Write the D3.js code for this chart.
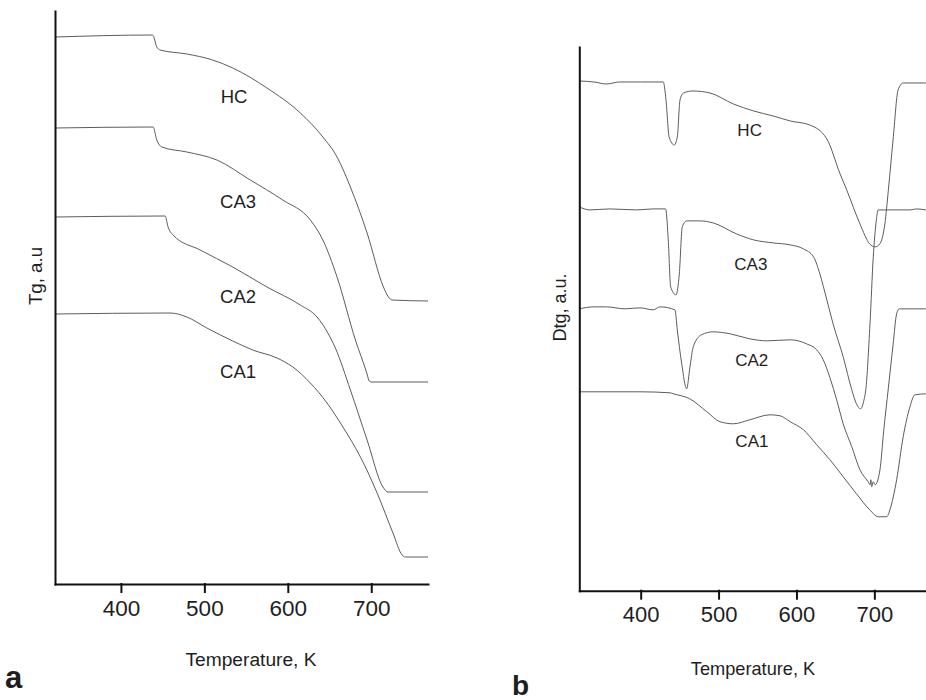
<!DOCTYPE html>
<html>
<head>
<meta charset="utf-8">
<title>TG / DTG curves</title>
<script src="https://d3js.org/d3.v7.min.js"></script>
<style>
body { margin: 0; background: #fff; }
svg text { font-family: "Liberation Sans", Arial, sans-serif; fill: #1e1e1e; }
.curve { fill: none; stroke: #5c5c5c; stroke-width: 1px; }
.axis path, .axis line { stroke: #111; stroke-width: 2px; stroke-linecap: square; }
</style>
</head>
<body>
<svg id="chart" width="926" height="700"></svg>
<script>
// temperature ticks (K)
const tempTicks = [400, 500, 600, 700];

// panel a: TG curves, [T (K), signal (a.u.)]
const tgHC = [[321,54.7],[438,54.9],[443,53.7],[447,53.4],[479,53.0],[510,52.4],[534,51.6],[575,49.6],[615,47.1],[642,44.7],[659,42.7],[675,39.7],[695,35.1],[714.6,29.7],[720.6,28.7],[725,28.4],[768,28.3]];
const tgCA3 = [[321,45.6],[438.5,45.7],[443,44.4],[449,43.7],[479,43.2],[515,42.4],[555,40.4],[594,38.4],[627,36.4],[642,34.4],[659,30.7],[681,24.4],[695,21.0],[697.5,20.3],[700,20.2],[768,20.2]];
const tgCA2 = [[321,36.7],[453,36.8],[456.5,35.7],[462.5,34.9],[495,33.4],[534,31.7],[575,29.7],[615,27.9],[635,26.7],[648,25.1],[657,23.6],[675,19.4],[695,14.4],[714,9.7],[720,9.2],[768,9.2]];
const tgCA1 = [[321,27.0],[459,27.1],[479,26.7],[503,25.6],[534,24.3],[558,23.4],[587,22.6],[606,21.7],[627,20.1],[647,18.1],[666,15.7],[687,12.7],[707,9.1],[726,5.1],[737,2.9],[741,2.7],[768,2.7]];

// panel b: DTG curves, [T (K), signal (a.u.)]
const dtgHC = [[321,51.0],[340,50.9],[356,50.7],[373,50.9],[400,50.9],[429,50.9],[432.5,49.1],[436.5,45.4],[443,44.6],[447,45.4],[450.5,49.1],[455,49.8],[467,50.0],[489,49.8],[519,48.7],[545,48.0],[570,47.5],[592,47.0],[617,46.6],[639,45.2],[656,41.7],[664.5,40.1],[681.5,36.7],[694,34.7],[701,34.4],[707,34.7],[713.5,36.7],[718,40.1],[724,45.1],[730.5,50.1],[737,50.8],[766,50.8]];
const dtgCA3 = [[321,38.4],[335,38.1],[360,38.2],[395,38.1],[416,38.2],[432,38.2],[435.4,35.1],[438.5,30.4],[445.3,29.6],[449.6,31.7],[453.4,36.4],[459,37.0],[476,37.0],[493,36.8],[523,35.7],[545,35.1],[570,34.8],[592,34.6],[609,34.2],[622,33.4],[630,31.7],[639,29.1],[647,26.7],[660,23.4],[671,20.1],[677,18.7],[682.4,18.2],[686.7,19.1],[689,20.1],[694.4,26.7],[698.6,33.4],[702,36.7],[705,38.1],[716,38.1],[746,38.1],[754,38.2],[766,38.1]];
const dtgCA2 = [[321,28.2],[340,28.4],[356,28.4],[380,28.2],[399,28.3],[416,28.1],[425,28.4],[444,28.1],[447,26.1],[452.7,22.7],[459,20.2],[463.3,22.4],[467.5,24.4],[478,25.6],[493,25.9],[515,25.7],[540,25.2],[562,25.0],[592,25.1],[613,24.7],[626,24.1],[634.4,23.1],[643,21.3],[651.6,19.1],[660,16.7],[671,14.4],[681.5,12.1],[692,10.9],[694.5,10.6],[695.5,11.1],[696.6,10.4],[698.6,10.9],[701,10.6],[707.2,12.1],[712,16.0],[718,20.3],[724,24.6],[728.6,27.7],[732,28.2],[766,28.2]];
const dtgCA1 = [[321,19.9],[399,19.9],[437.6,19.8],[442,19.7],[463,19.2],[485,17.9],[502,16.9],[519,16.7],[540,17.1],[566,17.6],[579,17.5],[592,16.9],[609,16.1],[626,14.6],[643,13.1],[660,11.4],[677,9.7],[694,8.1],[705,7.4],[716,7.4],[720,8.1],[728.6,11.1],[737,15.4],[745.7,18.4],[752,19.6],[766,19.7]];

// sample names and where they are written, [T, signal]
const sampleNames = ["HC", "CA3", "CA2", "CA1"];
const tgLabelAt = [[535.6,48.7],[540.4,38.2],[540.4,28.7],[540.4,21.2]];
const dtgLabelAt = [[539.9,46.1],[541.4,32.7],[542.6,23.1],[542.8,15.0]];

const svg = d3.select("#chart");

const panels = [
    {series: [tgHC, tgCA3, tgCA2, tgCA1], labelAt: tgLabelAt,
     xDomain: [321, 768], yDomain: [0, 57.3],
     xRange: [55, 428], yRange: [584, 11],
     tickFont: 22.5, nameFont: 18.5,
     yTitle: "Tg, a.u", yTitlePos: [42, 276], yTitleFont: 18.7,
     xTitlePos: [251, 666], xTitleFont: 19.2,
     letter: "a", letterPos: [5, 688], letterFont: 31},
    {series: [dtgHC, dtgCA3, dtgCA2, dtgCA1], labelAt: dtgLabelAt,
     xDomain: [321.2, 766.3], yDomain: [0, 54.4],
     xRange: [579.3, 926], yRange: [590.7, 47],
     tickFont: 22, nameFont: 17,
     yTitle: "Dtg, a.u.", yTitlePos: [566, 307.5], yTitleFont: 18,
     xTitlePos: [753, 675], xTitleFont: 18.2,
     letter: "b", letterPos: [512, 695], letterFont: 28}
];

panels.forEach(p => {
    const x = d3.scaleLinear().domain(p.xDomain).range(p.xRange);
    const y = d3.scaleLinear().domain(p.yDomain).range(p.yRange);
    const g = svg.append("g");

    const line = d3.line()
        .x(d => x(d[0]))
        .y(d => y(d[1]))
        .curve(d3.curveMonotoneX);

    g.selectAll("path.curve").data(p.series)
        .join("path")
        .attr("class", "curve")
        .attr("d", line);

    // bottom axis with outward ticks
    const xAxis = g.append("g")
        .attr("class", "axis")
        .attr("transform", `translate(0,${p.yRange[0]})`)
        .call(d3.axisBottom(x).tickValues(tempTicks).tickSize(8).tickSizeOuter(0).tickPadding(8).tickFormat(d3.format("d")));
    xAxis.selectAll("text")
        .attr("fill", null)
        .style("font-size", p.tickFont + "px")
        .style("font-family", '"Liberation Sans", Arial, sans-serif');

    // left axis, no ticks
    g.append("g")
        .attr("class", "axis")
        .attr("transform", `translate(${p.xRange[0]},0)`)
        .call(d3.axisLeft(y).tickValues([]).tickSizeOuter(0));

    // sample names
    g.selectAll("text.name").data(sampleNames)
        .join("text")
        .attr("class", "name")
        .attr("x", (d, i) => x(p.labelAt[i][0]))
        .attr("y", (d, i) => y(p.labelAt[i][1]))
        .attr("dy", "0.35em")
        .attr("text-anchor", "middle")
        .style("font-size", p.nameFont + "px")
        .text(d => d);

    g.append("text")
        .attr("transform", `translate(${p.yTitlePos[0]},${p.yTitlePos[1]}) rotate(-90)`)
        .attr("text-anchor", "middle")
        .style("font-size", p.yTitleFont + "px")
        .text(p.yTitle);

    g.append("text")
        .attr("x", p.xTitlePos[0])
        .attr("y", p.xTitlePos[1])
        .attr("text-anchor", "middle")
        .style("font-size", p.xTitleFont + "px")
        .text("Temperature, K");

    g.append("text")
        .attr("x", p.letterPos[0])
        .attr("y", p.letterPos[1])
        .style("font-size", p.letterFont + "px")
        .style("font-weight", "bold")
        .text(p.letter);
});
</script>
</body>
</html>
